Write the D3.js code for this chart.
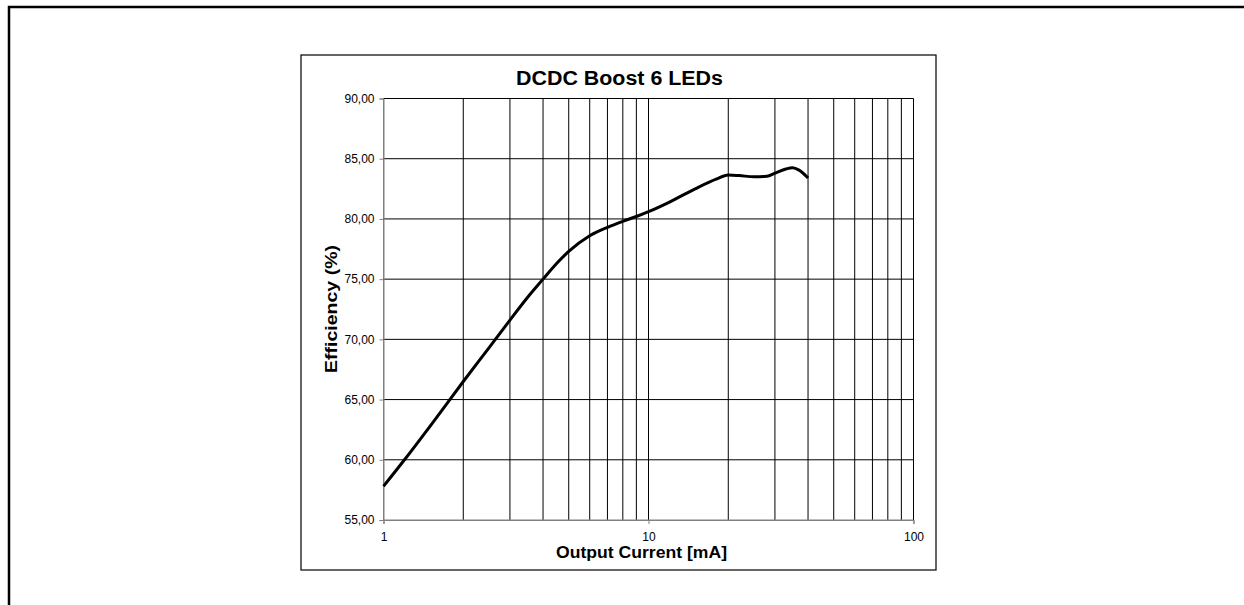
<!DOCTYPE html>
<html>
<head>
<meta charset="utf-8">
<script src="https://cdn.jsdelivr.net/npm/d3@7"></script>
<style>
  html, body { margin: 0; padding: 0; background: #fff; }
  svg { display: block; }
  text { font-family: "Liberation Sans", Arial, Helvetica, sans-serif; fill: #000; }
</style>
</head>
<body>
<svg id="chart" width="1244" height="605"></svg>
<script>
// ---- data ----
const title = "DCDC Boost 6 LEDs";
const xLabel = "Output Current [mA]";
const yLabel = "Efficiency (%)";
const currentMA = [1, 1.2, 1.5, 2, 2.5, 3, 3.5, 4, 4.5, 5, 6, 7, 8, 9, 10, 12, 15, 18, 20, 22, 25, 28, 30, 33, 35, 37, 40];
const efficiency = [57.8, 60.0, 62.8, 66.5, 69.3, 71.6, 73.5, 75.0, 76.3, 77.3, 78.6, 79.3, 79.8, 80.2, 80.6, 81.4, 82.5, 83.3, 83.65, 83.6, 83.5, 83.55, 83.8, 84.15, 84.25, 84.05, 83.4];
const yTicks = [55, 60, 65, 70, 75, 80, 85, 90];
const xTicks = [1, 10, 100];
const xGrid = [1,2,3,4,5,6,7,8,9,10,20,30,40,50,60,70,80,90,100];

// ---- layout ----
const svg = d3.select("#chart");
const plot = { left: 383.5, right: 913.5, top: 98.5, bottom: 520 };

// outer frame (extends past page right/bottom)
svg.append("rect").attr("x", 9).attr("y", 7).attr("width", 1300).attr("height", 700)
  .attr("fill", "none").attr("stroke", "#000").attr("stroke-width", 2.5);

// chart frame
svg.append("rect").attr("x", 301).attr("y", 55).attr("width", 635).attr("height", 515)
  .attr("fill", "#fff").attr("stroke", "#000").attr("stroke-width", 1.2);

const x = d3.scaleLog().domain([1, 100]).range([plot.left, plot.right]);
const y = d3.scaleLinear().domain([55, 90]).range([plot.bottom, plot.top]);

// gridlines
const g = svg.append("g");
g.selectAll("line.vg").data(xGrid).enter().append("line")
  .attr("x1", d => x(d)).attr("x2", d => x(d))
  .attr("y1", plot.top).attr("y2", plot.bottom)
  .attr("stroke", d => d === 1 ? "#808080" : "#000").attr("stroke-width", 1);
g.selectAll("line.hg").data(yTicks).enter().append("line")
  .attr("x1", plot.left).attr("x2", plot.right)
  .attr("y1", d => y(d)).attr("y2", d => y(d))
  .attr("stroke", d => d === 55 ? "#808080" : "#000").attr("stroke-width", 1);

// axes
const yAxis = d3.axisLeft(y).tickValues(yTicks).tickSize(4).tickPadding(5)
  .tickFormat(d => d3.format(".2f")(d).replace(".", ","));
const ya = svg.append("g").attr("transform", `translate(${plot.left},0)`).call(yAxis);
ya.select(".domain").attr("stroke", "#808080");
ya.selectAll(".tick line").attr("stroke", "#808080");
ya.selectAll(".tick text").attr("font-size", 12).attr("fill", "#000")
  .attr("font-family", "'Liberation Sans', Arial, sans-serif");

const xAxis = d3.axisBottom(x).tickValues(xTicks).tickSize(4).tickPadding(8)
  .tickFormat(d3.format("d"));
const xa = svg.append("g").attr("transform", `translate(0,${plot.bottom})`).call(xAxis);
xa.select(".domain").attr("stroke", "#808080");
xa.selectAll(".tick line").attr("stroke", "#808080");
xa.selectAll(".tick text").attr("font-size", 12).attr("fill", "#000")
  .attr("font-family", "'Liberation Sans', Arial, sans-serif");

// curve
const pts = currentMA.map((c, i) => [c, efficiency[i]]);
const line = d3.line().x(d => x(d[0])).y(d => y(d[1])).curve(d3.curveMonotoneX);
svg.append("path").datum(pts).attr("d", line)
  .attr("fill", "none").attr("stroke", "#000").attr("stroke-width", 3)
  .attr("stroke-linejoin", "round").attr("stroke-linecap", "butt");

// texts
svg.append("text").attr("x", 619.5).attr("y", 85).attr("text-anchor", "middle")
  .attr("font-size", 20).attr("font-weight", "bold")
  .attr("textLength", 207).attr("lengthAdjust", "spacingAndGlyphs").text(title);
svg.append("text").attr("x", 641.5).attr("y", 558).attr("text-anchor", "middle")
  .attr("font-size", 16.5).attr("font-weight", "bold")
  .attr("textLength", 171).attr("lengthAdjust", "spacingAndGlyphs").text(xLabel);
svg.append("text").attr("transform", "translate(337,309) rotate(-90)").attr("text-anchor", "middle")
  .attr("font-size", 16.5).attr("font-weight", "bold")
  .attr("textLength", 128).attr("lengthAdjust", "spacingAndGlyphs").text(yLabel);
</script>
</body>
</html>
